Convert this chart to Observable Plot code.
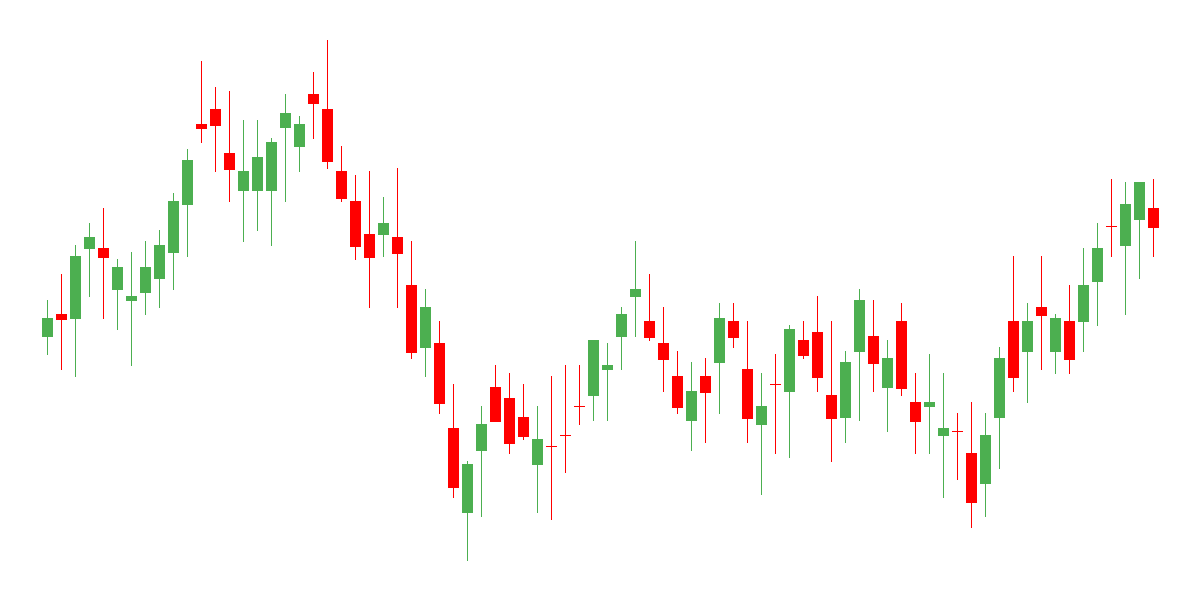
<!DOCTYPE html>
<html>
<head>
<meta charset="utf-8">
<script src="https://cdn.jsdelivr.net/npm/d3@7"></script>
<script src="https://cdn.jsdelivr.net/npm/@observablehq/plot@0.6"></script>
<style>
  html, body { margin: 0; padding: 0; background: #ffffff; }
  #chart svg { display: block; }
</style>
</head>
<body>
<div id="chart"></div>
<script>
const openP  = [26.3,28.6,28.1,35.1,35.2,31.0,29.9,30.7,32.1,34.7,39.5,47.6,49.1,44.7,40.9,40.9,40.9,47.2,45.3,50.6,49.1,42.9,39.9,36.6,36.5,36.3,31.5,25.2,25.7,17.2,8.7,14.9,21.3,20.2,18.3,13.5,15.4,16.5,19.4,20.4,23.0,26.3,30.3,27.9,25.7,22.4,17.9,22.4,23.7,27.9,23.1,17.5,21.6,20.8,26.0,26.8,20.5,18.2,24.8,26.4,21.2,27.9,19.8,19.3,16.4,16.9,14.7,11.6,18.2,27.9,24.8,29.3,24.8,27.9,27.8,31.8,37.4,35.4,38.0,39.2];
const highP  = [30.0,32.6,35.5,37.7,39.2,34.1,34.8,35.9,37.0,40.7,45.1,53.9,51.3,50.9,48.0,48.0,46.2,50.6,48.4,52.8,56.0,45.4,42.5,42.9,40.3,43.2,35.9,31.1,27.9,21.6,13.9,19.4,23.5,22.7,21.6,19.4,22.4,23.5,23.5,26.0,25.7,29.3,35.9,32.6,29.3,24.9,23.8,24.2,29.7,29.7,27.9,22.7,24.6,27.5,27.9,30.4,27.9,24.9,31.1,30.0,26.0,29.7,22.7,24.6,22.7,18.7,19.8,18.7,25.3,34.4,29.7,34.4,28.6,31.5,35.2,37.7,42.1,41.8,41.8,42.1];
const lowP   = [24.5,23.0,22.3,30.3,28.1,27.0,23.4,28.5,29.2,31.0,34.3,45.7,42.8,39.8,35.8,36.9,35.4,39.8,42.8,46.1,43.1,39.8,34.0,29.2,34.3,29.2,24.1,22.3,18.6,10.2,3.9,8.3,17.9,14.6,16.0,8.7,8.0,12.7,17.5,17.9,17.9,23.0,26.3,25.9,20.8,18.6,14.9,15.7,18.6,25.2,15.7,10.5,14.6,14.2,24.1,20.8,13.8,15.7,17.9,20.8,16.8,20.4,14.6,14.6,10.2,12.0,7.2,8.3,13.1,20.8,19.7,23.0,22.6,22.6,24.8,27.4,34.3,28.5,32.1,34.3];
const closeP = [28.2,28.1,34.4,36.3,34.3,33.3,30.4,33.3,35.5,39.9,44.0,47.2,47.5,43.1,42.9,44.3,45.8,48.7,47.6,49.7,43.9,40.2,35.4,34.3,37.7,34.7,24.8,29.3,19.7,11.3,13.6,17.6,17.9,15.7,16.4,16.1,15.4,16.5,19.4,26.0,23.5,28.6,31.1,26.3,24.1,19.3,20.9,20.8,28.2,26.3,18.2,19.4,21.6,27.1,24.5,22.3,18.2,23.8,30.0,23.7,24.2,21.2,17.9,19.8,17.2,16.9,9.8,16.5,24.2,22.3,27.9,28.5,28.2,24.1,31.5,35.2,37.4,39.6,41.8,37.3];

const upColor = "#4caf50";
const downColor = "#ff0000";

const candles = openP.map((o, i) => ({
  i,
  open: o,
  high: highP[i],
  low: lowP[i],
  close: closeP[i],
  color: closeP[i] > o ? upColor : downColor
}));

const chart = Plot.plot({
  width: 1200,
  height: 600,
  marginLeft: 39,
  marginRight: 38,
  marginTop: 0,
  marginBottom: 0,
  style: { background: "#ffffff" },
  x: { type: "band", domain: candles.map(d => d.i), padding: 3 / 14, round: false, axis: null },
  y: { domain: [0, 60], axis: null },
  color: { type: "identity" },
  marks: [
    Plot.ruleX(candles, { x: "i", y1: "low", y2: "high", stroke: "color", strokeWidth: 1, dx: -0.5 }),
    Plot.barY(candles, { x: "i", y1: "open", y2: "close", fill: "color" }),
    Plot.tickY(candles, { x: "i", y: "close", stroke: "color", strokeWidth: 1 })
  ]
});
document.getElementById("chart").appendChild(chart);
</script>
</body>
</html>
